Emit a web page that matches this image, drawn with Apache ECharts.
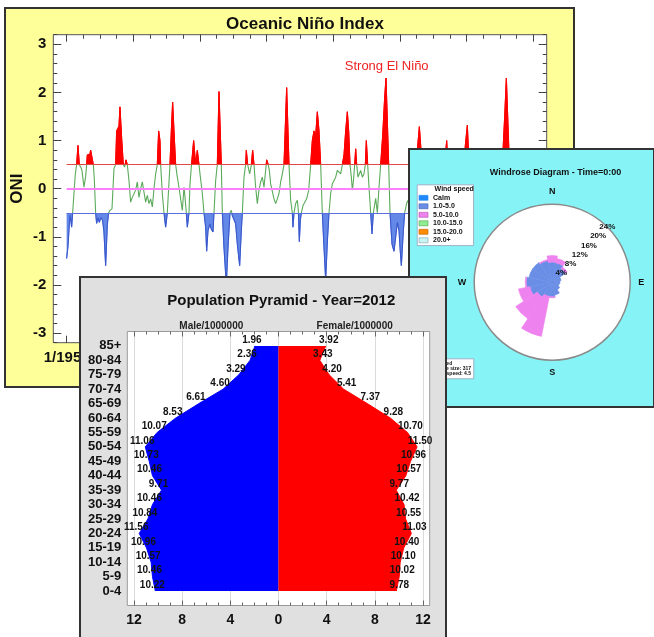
<!DOCTYPE html>
<html>
<head>
<meta charset="utf-8">
<script src="https://cdn.jsdelivr.net/npm/echarts@6/dist/echarts.min.js"></script>
<style>
html,body{margin:0;padding:0;width:654px;height:637px;overflow:hidden;background:#ffffff;}
.panel{position:absolute;box-sizing:border-box;border:2px solid #333;}
#oni{left:4px;top:7px;width:571px;height:381px;background:#ffff99;z-index:1;}
#wind{left:407.5px;top:147.5px;width:247px;height:260px;background:#86f4f6;z-index:2;}
#pyr{left:79px;top:275.5px;width:368px;height:372px;background:#e0e0e0;z-index:3;}
</style>
</head>
<body>
<div id="oni" class="panel"></div>
<div id="wind" class="panel"></div>
<div id="pyr" class="panel"></div>
<script>
// ---------------- DATA ----------------
// Oceanic Niño Index
const oniYears = [
1950.0,1950.2,1950.4,1950.5,1950.6,1950.75,1950.9,1951.1,1951.3,1951.5,1951.7,1951.9,
1952.1,1952.3,1952.6,1952.85,1953.0,1953.1,1953.3,1953.5,1953.6,1953.8,1954.0,1954.15,
1954.35,1954.5,1954.7,1954.9,1955.15,1955.4,1955.6,1955.85,1956.1,1956.3,1956.5,1956.8,
1957.1,1957.35,1957.5,1957.85,1958.0,1958.25,1958.5,1958.7,1958.9,1959.1,1959.35,1959.6,
1959.85,1960.1,1960.35,1960.6,1960.85,1961.1,1961.35,1961.6,1961.85,1962.1,1962.35,1962.6,
1962.85,1963.1,1963.35,1963.6,1963.8,1964.0,1964.1,1964.35,1964.6,1964.85,1965.1,1965.35,
1965.5,1965.7,1965.9,1966.1,1966.35,1966.6,1966.85,1967.1,1967.35,1967.6,1967.75,1967.95,
1968.1,1968.35,1968.5,1968.7,1968.9,1969.05,1969.35,1969.6,1969.85,1970.0,1970.35,1970.6,
1970.85,1971.0,1971.2,1971.5,1971.7,1971.95,1972.1,1972.35,1972.6,1972.85,1973.2,1973.35,
1973.6,1973.95,1974.2,1974.5,1974.7,1974.85,1975.1,1975.35,1975.6,1975.95,1976.2,1976.35,
1976.6,1976.85,1976.95,1977.15,1977.45,1977.7,1977.9,1978.1,1978.35,1978.6,1978.85,1979.1,
1979.35,1979.6,1979.85,1980.0,1980.2,1980.4,1980.6,1980.85,1981.1,1981.35,1981.6,1981.85,
1982.1,1982.35,1982.6,1982.8,1983.0,1983.35,1983.6,1983.85,1983.95,1984.1,1984.35,1984.6,
1984.75,1984.9,1985.05,1985.2,1985.45,1985.7,1986.0,1986.3,1986.6,1986.85,1987.1,1987.35,
1987.6,1987.85,1988.1,1988.35,1988.6,1988.85,1989.1,1989.35,1989.6,1989.85,1990.1,1990.35,
1990.6,1990.85,1991.1,1991.35,1991.6,1991.85,1992.1,1992.3,1992.5,1992.7,1992.85,1993.0,
1993.2,1993.35,1993.5,1993.7,1993.9,1994.1,1994.35,1994.6,1994.8,1994.95,1995.15,1995.35,
1995.6,1995.8,1996.0,1996.35,1996.6,1996.85,1997.1,1997.4,1997.7,1997.9,1998.1,1998.3,
1998.5,1998.8,1999.1,1999.35,1999.6,1999.85,2000.0,2000.2,2000.5,2000.7,2001.0,2001.4,
2001.8,2002.1,2002.4,2002.6,2002.9,2003.15,2003.4,2003.7,2004.0,2004.4,2004.7,2005.0,
2005.4,2005.7,2006.0,2006.4,2006.7,2007.0,2007.3,2007.6,2007.9,2008.1,2008.5,2008.9,
2009.2,2009.5,2009.8,2010.1,2010.35,2010.6,2010.9,2011.2,2011.5,2011.9,2012.2,2012.5,
2012.8,2013.1,2013.5,2013.9,2014.2,2014.5,2014.9,2015.2,2015.45,2015.7,2015.95,2016.2,
2016.4,2016.8,2017.1,2017.5,2017.9,2018.2,2018.6,2018.9,2019.2,2019.6,2019.9,2020.2,
2020.6,2020.9,2021.2
];
const oniValues = [
-1.45,-1.2,-0.75,-0.55,-0.62,-0.8,-0.5,-0.1,0.3,0.5,0.9,0.5,
0.45,0.38,0.03,0.25,0.5,0.7,0.68,0.72,0.8,0.8,0.5,0.2,
-0.5,-0.72,-0.6,-0.7,-0.6,-0.66,-0.9,-1.6,-0.75,-0.5,-0.45,-0.42,
0.42,0.5,1.2,1.3,1.7,1.05,0.5,0.45,0.6,0.5,0.17,-0.28,
-0.18,-0.14,-0.03,0.14,-0.18,0.0,0.14,-0.07,-0.28,-0.14,-0.31,-0.21,
-0.38,0.0,0.31,0.5,1.2,1.0,0.5,-0.1,-0.5,-0.8,-0.5,0.14,
0.5,1.2,1.8,1.2,0.5,0.24,0.03,-0.21,-0.45,0.03,-0.17,-0.5,
-0.8,-0.5,0.1,0.45,0.49,1.0,0.5,0.8,0.5,0.31,-0.1,-0.5,
-0.8,-1.3,-0.87,-0.73,-0.84,-0.9,-0.5,0.17,0.5,2.02,0.5,-0.5,
-1.22,-2.0,-1.22,-0.5,-0.45,-0.56,-0.52,-0.73,-1.15,-1.6,-0.87,-0.5,
0.24,0.5,0.8,0.5,0.31,0.49,0.8,0.5,0.03,-0.31,-0.03,0.14,
0.24,0.03,0.38,0.6,0.52,0.38,0.1,0.07,-0.21,-0.31,-0.21,-0.1,
0.14,0.31,0.5,1.3,2.1,0.5,-0.24,-0.5,-0.8,-0.5,-0.31,-0.24,
-0.45,-1.1,-0.66,-0.5,-0.35,-0.31,-0.21,-0.03,0.5,1.0,1.2,1.1,
1.6,1.2,0.5,-0.5,-1.22,-1.9,-1.1,-0.5,-0.1,0.1,0.17,0.24,
0.38,0.38,0.31,0.5,0.7,1.2,1.6,1.2,0.5,0.24,-0.03,0.14,
0.5,0.83,0.5,0.24,0.31,0.38,0.24,0.31,0.5,1.0,0.5,0.03,
-0.5,-0.94,-0.5,-0.2,-0.5,0.03,0.5,1.1,1.9,2.3,1.4,0.5,
-0.5,-1.15,-1.3,-1.0,-0.7,-0.87,-1.22,-1.6,-0.87,-0.5,-0.3,-0.2,
-0.1,0.0,0.4,0.8,1.29,0.8,0.0,0.2,0.4,0.3,0.7,0.6,
0.3,-0.1,-0.8,-0.2,0.5,1.0,0.1,-0.6,-1.4,-1.6,-0.6,-0.6,
-0.7,0.3,0.9,1.32,0.5,-0.8,-1.5,-1.2,-0.5,-1.0,-0.7,0.1,
0.3,-0.4,-0.3,-0.3,-0.4,0.1,0.6,0.5,0.8,1.5,2.3,1.3,
0.5,-0.7,-0.3,0.3,-0.9,-0.8,0.2,0.8,0.7,0.2,0.5,0.4,
-0.5,-1.2,-0.9
];
const oniThresholds = [0.5, 0, -0.5];
const oniAnnotation = { text: 'Strong El Niño', year: 1998, value: 2.55 };
const oniLabelYears = [1950, 1960, 1970, 1980, 1990, 2000, 2010, 2020];

// Population pyramid (bottom to top)
const ageGroups = ['0-4','5-9','10-14','15-19','20-24','25-29','30-34','35-39','40-44','45-49','50-54','55-59','60-64','65-69','70-74','75-79','80-84','85+'];
const maleMillions = [10.22,10.46,10.57,10.96,11.56,10.84,10.46,9.71,10.46,10.73,11.06,10.07,8.53,6.61,4.60,3.29,2.36,1.96];
const femaleMillions = [9.78,10.02,10.10,10.40,11.03,10.55,10.42,9.77,10.57,10.96,11.50,10.70,9.28,7.37,5.41,4.20,3.43,3.92];
const pyramidTickLabels = [-12,-8,-4,0,4,8,12];

// Windrose (percent by direction, stacked by speed class)
const directions = ['N','NNE','NE','ENE','E','ESE','SE','SSE','S','SSW','SW','WSW','W','WNW','NW','NNW'];
const speedBins = ['Calm','1.0-5.0','5.0-10.0','10.0-15.0','15.0-20.0','20.0+'];
const pctCalm    = [0,0,0,0,0,0,0,0,0,0,0,0,0,0,0,0];
const pct1to5    = [6.2,6.0,5.0,2.8,2.4,2.2,2.8,4.0,4.5,4.5,5.5,7.0,8.0,7.3,7.3,6.8];
const pct5to10   = [2.0,1.4,0.6,0,0,0,0,0,0.3,12.5,8.0,3.6,0.3,0,0,0.3];
const pct10to15  = [0,0,0,0,0,0,0,0,0,0,0,0,0,0,0,0];
const pct15to20  = [0,0,0,0,0,0,0,0,0,0,0,0,0,0,0,0];
const pct20plus  = [0,0,0,0,0,0,0,0,0,0,0,0,0,0,0,0];
const ringPercents = [4,8,12,16,20,24];
const compassLabels = {0:'N', 90:'E', 180:'S', 270:'W'};

// ---------------- HELPERS ----------------
const FONT = '"Liberation Sans", Arial, Helvetica, sans-serif';
function steps(a, b, s) { const out = []; const n = Math.round((b - a) / s); for (let i = 0; i <= n; i++) out.push(+(a + i * s).toFixed(4)); return out; }

// ---------------- ONI CHART ----------------
(function () {
  const chart = echarts.init(document.getElementById('oni'), null, { renderer: 'canvas' });
  const data = oniYears.map((y, i) => [y, oniValues[i]]);
  const xMin = 1948, xMax = 2022, yMin = -3.2, yMax = 3.2;
  const xMajor = steps(1950, 2020, 10), xMinor = steps(1950, 2020, 2.5);
  const yMajor = steps(-3, 3, 1), yMinor = steps(-3.2, 3.2, 0.2);
  function xa(pos, ticks, len, labels) {
    return {
      type: 'value', gridIndex: 0, position: pos, min: xMin, max: xMax,
      axisLine: { show: false, onZero: false }, splitLine: { show: false },
      axisTick: { show: true, inside: true, length: len, customValues: ticks, lineStyle: { color: '#444', width: 1 } },
      axisLabel: labels ? { show: true, customValues: oniLabelYears, formatter: v => '1/' + v, fontSize: 15, fontWeight: 'bold', color: '#111', margin: 8, fontFamily: FONT } : { show: false }
    };
  }
  function ya(pos, ticks, len, labels) {
    const o = {
      type: 'value', gridIndex: 0, position: pos, min: yMin, max: yMax,
      axisLine: { show: false, onZero: false }, splitLine: { show: false },
      axisTick: { show: true, inside: true, length: len, customValues: ticks, lineStyle: { color: '#444', width: 1 } },
      axisLabel: labels ? { show: true, customValues: yMajor, formatter: v => String(v), fontSize: 15, fontWeight: 'bold', color: '#111', margin: 7, fontFamily: FONT } : { show: false }
    };
    if (labels) {
      o.name = 'ONI'; o.nameLocation = 'middle'; o.nameGap = 27; o.nameRotate = 90; o.nameMoveOverlap = false;
      o.nameTextStyle = { fontSize: 17, fontWeight: 'bold', color: '#111', fontFamily: FONT };
    }
    return o;
  }
  const lineColors = ['#e04848', '#ff80ff', '#5a6ee0'];
  const lineWidths = [1, 2, 1];
  chart.setOption({
    animation: false,
    textStyle: { fontFamily: FONT },
    title: { text: 'Oceanic Niño Index', left: 294, top: 2, textAlign: 'center',
      textStyle: { fontSize: 17, fontWeight: 'bold', color: '#111', fontFamily: FONT } },
    grid: { left: 47.3, right: 26.3, top: 25.7, bottom: 43.3, show: true, backgroundColor: '#ffffff', borderColor: '#555', borderWidth: 1, outerBoundsMode: 'none' },
    xAxis: [xa('bottom', xMajor, 7, true), xa('bottom', xMinor, 4, false), xa('top', xMajor, 7, false), xa('top', xMinor, 4, false)],
    yAxis: [ya('left', yMajor, 8, true), ya('left', yMinor, 4, false), ya('right', yMajor, 8, false), ya('right', yMinor, 4, false)],
    visualMap: [
      { type: 'piecewise', show: false, seriesIndex: 0, dimension: 1,
        pieces: [{ lt: -0.5, color: '#6388e8' }, { gte: -0.5, lte: 0.5, color: 'rgba(255,255,255,0)' }, { gt: 0.5, color: '#ff0000' }] },
      { type: 'piecewise', show: false, seriesIndex: 1, dimension: 1,
        pieces: [{ lt: -0.5, color: '#3a58cc' }, { gte: -0.5, lte: 0.5, color: '#5aaa5a' }, { gt: 0.5, color: '#ff0000' }] }
    ],
    series: [
      { type: 'line', data: data, symbol: 'none', silent: true, z: 2,
        lineStyle: { width: 1 }, areaStyle: { opacity: 1 } },
      { type: 'line', data: data, symbol: 'none', silent: true, z: 3,
        lineStyle: { width: 1.1 },
        markLine: { silent: true, symbol: 'none', label: { show: false },
          data: oniThresholds.map((t, i) => [
            { coord: [1950, t], lineStyle: { color: lineColors[i], width: lineWidths[i], type: 'solid' } },
            { coord: [xMax, t] }
          ]) },
        markPoint: { silent: true, symbol: 'rect', symbolSize: 1, itemStyle: { color: 'rgba(0,0,0,0)' },
          data: [{ coord: [oniAnnotation.year, oniAnnotation.value],
            label: { show: true, position: 'inside', formatter: oniAnnotation.text, color: '#ee2222', fontSize: 13, fontFamily: FONT } }] }
      }
    ]
  });
})();

// ---------------- WINDROSE CHART ----------------
(function () {
  const chart = echarts.init(document.getElementById('wind'), null, { renderer: 'canvas' });
  const center = [142.2, 132.2], radius = 78;
  const binData = [pctCalm, pct1to5, pct5to10, pct10to15, pct15to20, pct20plus];
  const colors = ['#1e88ff', '#6a8ee6', '#ee82ee', '#90ee90', '#ff8c00', '#c8f4f4'];
  const borders = ['#1e88ff', '#4060b0', '#b050b0', '#50a050', '#c06000', '#80a0b0'];
  chart.setOption({
    animation: false,
    textStyle: { fontFamily: FONT },
    title: { text: 'Windrose Diagram - Time=0:00', left: 140.5, top: 13, textAlign: 'center',
      textStyle: { fontSize: 9, fontWeight: 'bold', color: '#111', fontFamily: FONT } },
    legend: {
      orient: 'vertical', left: 7.2, top: 34.8, padding: [9, 11, 1.3, 1.5],
      backgroundColor: '#ffffff', borderColor: '#9fb0c8', borderWidth: 1, borderRadius: 0,
      itemWidth: 9, itemHeight: 5, itemGap: 0.5, selectedMode: false, icon: 'rect',
      textStyle: { fontSize: 7, fontWeight: 'bold', color: '#111', lineHeight: 8, fontFamily: FONT },
      data: speedBins.map((n, k) => ({ name: n, itemStyle: { color: colors[k], borderColor: borders[k], borderWidth: 0.6 } }))
    },
    polar: [
      { center: center, radius: radius },
      { center: center, radius: radius },
      { center: center, radius: radius }
    ],
    angleAxis: [
      { polarIndex: 0, type: 'category', data: directions, startAngle: 101.25, boundaryGap: true,
        axisLine: { show: false }, axisTick: { show: false }, axisLabel: { show: false }, splitLine: { show: false } },
      { polarIndex: 1, type: 'value', min: 0, max: 360, interval: 90, startAngle: 90,
        axisLine: { show: true, lineStyle: { color: '#8a8a8a', width: 1.5 } },
        axisTick: { show: false },
        axisLabel: { show: true, formatter: v => compassLabels[v] || '', fontSize: 9, fontWeight: 'bold', color: '#111', margin: 8, fontFamily: FONT },
        splitLine: { show: true, lineStyle: { color: '#9a9a9a', width: 1.5 } },
        splitArea: { show: true, areaStyle: { color: ['#ffffff'] } } },
      { polarIndex: 2, type: 'value', min: 0, max: 360, startAngle: 45, show: false }
    ],
    radiusAxis: [
      { polarIndex: 0, type: 'value', min: 0, max: 24, show: false },
      { polarIndex: 1, type: 'value', min: 0, max: 24, show: false },
      { polarIndex: 2, type: 'value', min: 0, max: 24, interval: 4, z: 10,
        axisLine: { show: false }, axisTick: { show: false }, splitLine: { show: false },
        axisLabel: { show: true, customValues: ringPercents, formatter: '{value}%', margin: 0, align: 'center', verticalAlign: 'middle',
          fontSize: 8, fontWeight: 'bold', color: '#111', fontFamily: FONT } }
    ],
    graphic: [
      { type: 'text', x: 63.8, y: 38.8, z: 100,
        style: { text: 'Wind speed', align: 'right', verticalAlign: 'middle', font: 'bold 7px ' + FONT, fill: '#111' } },
      { type: 'rect', z: 100, shape: { x: 10, y: 208.8, width: 53.8, height: 20 },
        style: { fill: '#ffffff', stroke: '#9fb0c8', lineWidth: 1 } },
      { type: 'text', x: 42.2, y: 213.8, z: 101,
        style: { text: 'Wind speed', align: 'right', verticalAlign: 'middle', font: 'bold 5px ' + FONT, fill: '#111' } },
      { type: 'text', x: 61, y: 218.8, z: 101,
        style: { text: 'Sample size: 317', align: 'right', verticalAlign: 'middle', font: 'bold 5px ' + FONT, fill: '#111' } },
      { type: 'text', x: 61, y: 223.8, z: 101,
        style: { text: 'Mean speed: 4.5', align: 'right', verticalAlign: 'middle', font: 'bold 5px ' + FONT, fill: '#111' } }
    ],
    series: speedBins.map((name, k) => ({
      type: 'bar', coordinateSystem: 'polar', polarIndex: 0, name: name, stack: 'wind',
      barCategoryGap: '0%', barGap: '0%', silent: true,
      data: binData[k].map(v => (v > 0 ? v : '-')),
      itemStyle: { color: colors[k], borderColor: colors[k], borderWidth: 0.6 }
    }))
  });
})();

// ---------------- POPULATION PYRAMID ----------------
(function () {
  const chart = echarts.init(document.getElementById('pyr'), null, { renderer: 'canvas' });
  const cats = [''].concat(ageGroups).concat(['']);
  const maleData = maleMillions.map((v, i) => [-v, i + 1]);
  const femaleData = femaleMillions.map((v, i) => [v, i + 1]);
  const xMin = -12.55, xMax = 12.55;
  const minor = steps(-12, 12, 1);
  function xa(pos, ticks, len, labels) {
    return {
      type: 'value', gridIndex: 0, position: pos, min: xMin, max: xMax,
      axisLine: { show: false, onZero: false },
      splitLine: labels ? { show: true, lineStyle: { color: '#dadada', width: 1 } } : { show: false },
      axisTick: { show: true, inside: true, length: len, customValues: ticks, lineStyle: { color: '#666', width: 1 } },
      axisLabel: labels ? { show: true, customValues: pyramidTickLabels, formatter: v => String(Math.abs(v)), fontSize: 14, fontWeight: 'bold', color: '#111', margin: 8, fontFamily: FONT } : { show: false }
    };
  }
  function lbl(offsetX) {
    return { show: true, position: 'top', distance: 1, offset: [offsetX, 0], fontSize: 10, fontWeight: 'bold', color: '#111', fontFamily: FONT,
      formatter: p => Math.abs(Array.isArray(p.value) ? p.value[0] : p.value).toFixed(2) };
  }
  chart.setOption({
    animation: false,
    textStyle: { fontFamily: FONT },
    title: [
      { text: 'Population Pyramid - Year=2012', left: 195.3, top: 10, textAlign: 'center',
        textStyle: { fontSize: 15, fontWeight: 'bold', color: '#111', fontFamily: FONT } },
      { text: 'Male/1000000', left: 125.3, top: 38, textAlign: 'center',
        textStyle: { fontSize: 10, fontWeight: 'bold', color: '#222', fontFamily: FONT } },
      { text: 'Female/1000000', left: 268.7, top: 38, textAlign: 'center',
        textStyle: { fontSize: 10, fontWeight: 'bold', color: '#222', fontFamily: FONT } }
    ],
    grid: { left: 46.3, right: 15.3, top: 53.5, bottom: 40.5, show: true, backgroundColor: '#ffffff', borderColor: '#999', borderWidth: 1, outerBoundsMode: 'none' },
    xAxis: [xa('bottom', pyramidTickLabels, 5, true), xa('bottom', minor, 3, false), xa('top', pyramidTickLabels, 5, false), xa('top', minor, 3, false)],
    yAxis: { type: 'category', data: cats, boundaryGap: false, gridIndex: 0,
      axisLine: { show: false, onZero: false }, axisTick: { show: false }, splitLine: { show: false },
      axisLabel: { show: true, interval: 0, fontSize: 13, fontWeight: 'bold', color: '#111', margin: 6, fontFamily: FONT } },
    series: [
      { type: 'line', name: 'Male', data: maleData, symbol: 'circle', symbolSize: 0, silent: true,
        itemStyle: { color: '#0000ff' }, lineStyle: { color: '#0000ff', width: 1 },
        areaStyle: { color: '#0000ff', opacity: 1 }, label: lbl(-3), z: 3 },
      { type: 'line', name: 'Female', data: femaleData, symbol: 'circle', symbolSize: 0, silent: true,
        itemStyle: { color: '#ff0000' }, lineStyle: { color: '#ff0000', width: 1 },
        areaStyle: { color: '#ff0000', opacity: 1 }, label: lbl(3), z: 3 }
    ]
  });
})();
</script>
</body>
</html>
